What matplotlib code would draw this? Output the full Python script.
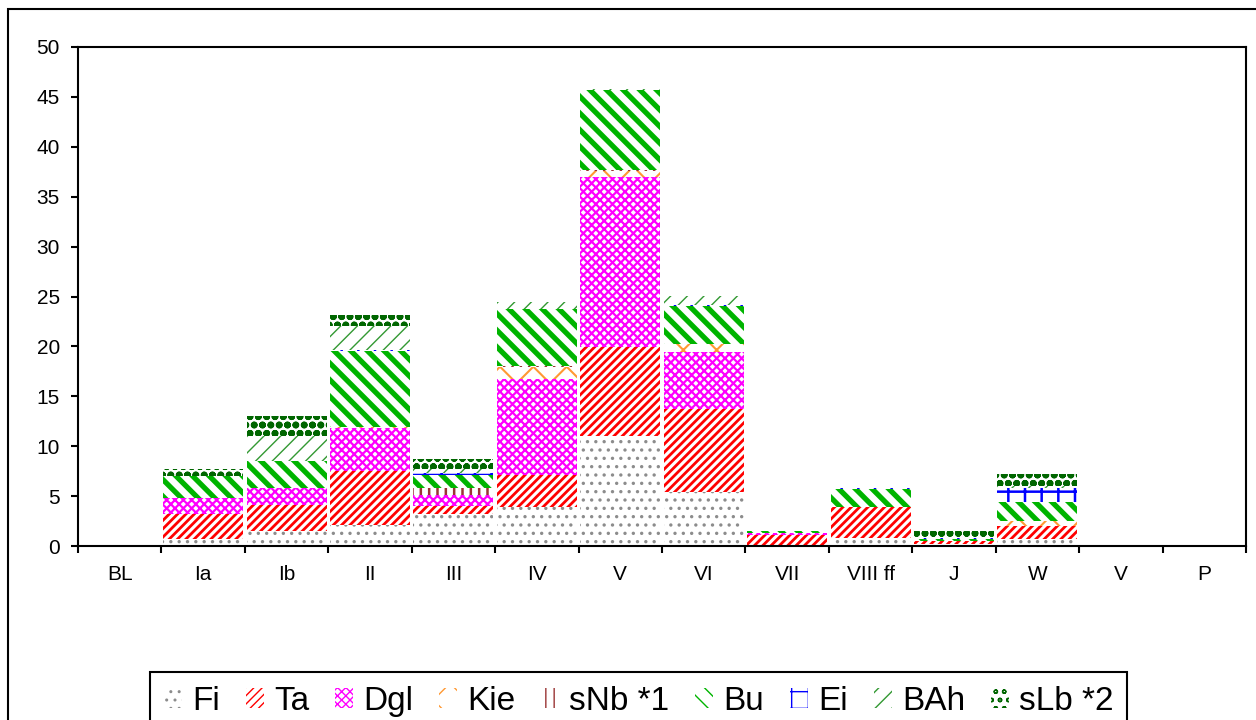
import numpy as np
import matplotlib
matplotlib.use("Agg")
import matplotlib.pyplot as plt
from matplotlib.patches import Rectangle

plt.rcParams["font.family"] = ["Liberation Sans", "DejaVu Sans"]

# Kategorien und Schichten (von unten nach oben)
cats = ["BL", "Ia", "Ib", "II", "III", "IV", "V", "VI", "VII", "VIII ff", "J", "W", "V", "P"]
Fi  = [0, 0.7, 1.5, 2.1, 3.2, 3.9, 11.0, 5.4, 0.1, 0.8, 0.2, 0.7, 0, 0]
Ta  = [0, 2.5, 2.6, 5.4, 0.8, 3.2, 8.9, 8.3, 1.0, 3.1, 0.3, 1.3, 0, 0]
Dgl = [0, 1.6, 1.7, 4.3, 1.1, 9.6, 17.1, 5.7, 0.2, 0, 0, 0, 0, 0]
Kie = [0, 0, 0, 0.1, 0, 1.2, 0.6, 0.8, 0, 0, 0, 0.5, 0, 0]
sNb = [0, 0, 0, 0, 0.7, 0.1, 0.1, 0, 0, 0, 0, 0, 0, 0]
Bu  = [0, 2.2, 2.7, 7.6, 1.3, 5.7, 8.0, 3.8, 0.2, 1.8, 0.2, 1.9, 0, 0]
Ei  = [0, 0, 0, 0.1, 0.2, 0, 0, 0.1, 0, 0.1, 0.1, 1.4, 0, 0]
BAh = [0, 0, 2.5, 2.4, 0.4, 0.7, 0.1, 0.9, 0, 0, 0, 0.2, 0, 0]
sLb = [0, 0.7, 2.0, 1.1, 1.0, 0, 0, 0, 0, 0, 0.7, 1.2, 0, 0]

series = [
    ("Fi", Fi, "#8c8c8c", "..", 1.2),
    ("Ta", Ta, "#ff0000", "////", 2.0),
    ("Dgl", Dgl, "#ff00ff", "xxxx", 1.6),
    ("Kie", Kie, "#ff9933", "x", 1.5),
    ("sNb *1", sNb, "#993333", "||", 1.8),
    ("Bu", Bu, "#00b400", "\\\\", 3.8),
    ("Ei", Ei, "#0000ff", "+", 1.8),
    ("BAh", BAh, "#339933", "//", 1.0),
    ("sLb *2", sLb, "#006600", "oo", 2.5),
]

fig = plt.figure(figsize=(12.56, 7.2), dpi=100)
ax = fig.add_axes([78 / 1256, 1 - 546 / 720, (1246 - 78) / 1256, (546 - 47) / 720])

x = np.arange(len(cats))
bottom = np.zeros(len(cats))
for name, vals, col, hatch, hlw in series:
    vals = np.array(vals, dtype=float)
    with plt.rc_context({"hatch.linewidth": hlw}):
        bars = ax.bar(x, vals, 0.96, bottom=bottom, facecolor="white",
                      edgecolor=col, linewidth=0, hatch=hatch, label=name)
    for b in bars:
        if hasattr(b, "set_hatch_linewidth"):
            b.set_hatch_linewidth(hlw)
    bottom += vals

ax.set_xlim(-0.5, len(cats) - 0.5)
ax.set_ylim(0, 50)
ax.set_yticks(np.arange(0, 51, 5))
ax.set_xticks(x)
ax.set_xticklabels(cats)
ax.set_xticks(np.arange(-0.5, len(cats), 1), minor=True)
ax.tick_params(axis="x", which="major", length=0, pad=14, labelsize=15)
ax.tick_params(axis="x", which="minor", length=5, width=1.5, direction="out")
ax.tick_params(axis="y", length=5, width=1.5, direction="out", pad=8, labelsize=15)
for s in ax.spines.values():
    s.set_linewidth(1.5)

leg = ax.legend(loc="upper left", bbox_to_anchor=(150 / 1256, 1 - 672 / 720),
                bbox_transform=fig.transFigure, ncol=9, fontsize=24,
                handlelength=0.55, handleheight=0.55, handletextpad=0.3,
                columnspacing=0.77, borderpad=0.42, borderaxespad=0,
                fancybox=False, framealpha=1, edgecolor="black")
leg.get_frame().set_linewidth(1.5)

# Rahmen um die ganze Grafik
fig.patches.append(Rectangle((8 / 1256, -0.1), 1.2, 1.1 - 9 / 720,
                             transform=fig.transFigure, fill=False,
                             edgecolor="black", linewidth=1.5))

fig.savefig("out.png", dpi=100)
